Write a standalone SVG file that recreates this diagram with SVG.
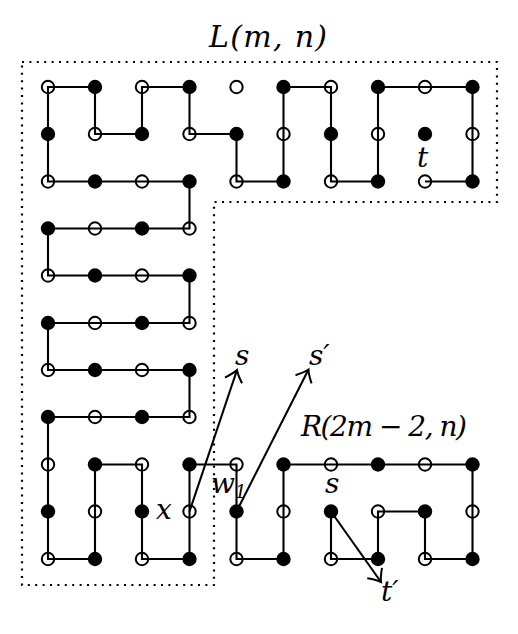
<svg xmlns="http://www.w3.org/2000/svg" width="518" height="634" viewBox="0 0 518 634">
<style>
.bg{fill:#fff}
.f{fill:#000}
.o{fill:#fff;stroke:#000;stroke-width:2}
.e{fill:none;stroke:#000;stroke-width:2.1;stroke-linejoin:miter}
.a{fill:none;stroke:#000;stroke-width:2.1}
.b{fill:none;stroke:#000;stroke-width:2.2;stroke-dasharray:2 5.4}
.t{font-family:"DejaVu Serif","Liberation Serif",serif;font-style:italic;font-size:28px;fill:#000}
.big{font-size:30px}
.mid{font-size:28px}
</style>
<defs>
<marker id="ah" markerUnits="userSpaceOnUse" markerWidth="30" markerHeight="30" refX="0" refY="0" viewBox="-15 -15 30 30" orient="auto" overflow="visible">
<path d="M -11 -9 Q -4 -2 0 0 Q -4 2 -11 9" fill="none" stroke="#000" stroke-width="2"/>
</marker>
</defs>
<rect class="bg" x="0" y="0" width="518" height="634"/>
<g id="boundary">
<path class="b" d="M22 62 H497 V202 H214 V585 H22 Z"/>
</g>
<g id="nodes">
<circle class="o" cx="48" cy="87" r="6.2"/><circle class="f" cx="95" cy="87" r="7.2"/><circle class="o" cx="142" cy="87" r="6.2"/><circle class="f" cx="189.5" cy="87" r="7.2"/><circle class="o" cx="236.5" cy="87" r="6.2"/><circle class="f" cx="283.5" cy="87" r="7.2"/><circle class="o" cx="331" cy="87" r="6.2"/><circle class="f" cx="378" cy="87" r="7.2"/><circle class="o" cx="425" cy="87" r="6.2"/><circle class="f" cx="472.5" cy="87" r="7.2"/>
<circle class="f" cx="48" cy="134" r="7.2"/><circle class="o" cx="95" cy="134" r="6.2"/><circle class="f" cx="142" cy="134" r="7.2"/><circle class="o" cx="189.5" cy="134" r="6.2"/><circle class="f" cx="236.5" cy="134" r="7.2"/><circle class="o" cx="283.5" cy="134" r="6.2"/><circle class="f" cx="331" cy="134" r="7.2"/><circle class="o" cx="378" cy="134" r="6.2"/><circle class="f" cx="425" cy="134" r="7.2"/><circle class="o" cx="472.5" cy="134" r="6.2"/>
<circle class="o" cx="48" cy="181.5" r="6.2"/><circle class="f" cx="95" cy="181.5" r="7.2"/><circle class="o" cx="142" cy="181.5" r="6.2"/><circle class="f" cx="189.5" cy="181.5" r="7.2"/><circle class="o" cx="236.5" cy="181.5" r="6.2"/><circle class="f" cx="283.5" cy="181.5" r="7.2"/><circle class="o" cx="331" cy="181.5" r="6.2"/><circle class="f" cx="378" cy="181.5" r="7.2"/><circle class="o" cx="425" cy="181.5" r="6.2"/><circle class="f" cx="472.5" cy="181.5" r="7.2"/>
<circle class="f" cx="48" cy="228.5" r="7.2"/><circle class="o" cx="95" cy="228.5" r="6.2"/><circle class="f" cx="142" cy="228.5" r="7.2"/><circle class="o" cx="189.5" cy="228.5" r="6.2"/>
<circle class="o" cx="48" cy="275.5" r="6.2"/><circle class="f" cx="95" cy="275.5" r="7.2"/><circle class="o" cx="142" cy="275.5" r="6.2"/><circle class="f" cx="189.5" cy="275.5" r="7.2"/>
<circle class="f" cx="48" cy="323" r="7.2"/><circle class="o" cx="95" cy="323" r="6.2"/><circle class="f" cx="142" cy="323" r="7.2"/><circle class="o" cx="189.5" cy="323" r="6.2"/>
<circle class="o" cx="48" cy="370" r="6.2"/><circle class="f" cx="95" cy="370" r="7.2"/><circle class="o" cx="142" cy="370" r="6.2"/><circle class="f" cx="189.5" cy="370" r="7.2"/>
<circle class="f" cx="48" cy="417" r="7.2"/><circle class="o" cx="95" cy="417" r="6.2"/><circle class="f" cx="142" cy="417" r="7.2"/><circle class="o" cx="189.5" cy="417" r="6.2"/>
<circle class="o" cx="48" cy="464.5" r="6.2"/><circle class="f" cx="95" cy="464.5" r="7.2"/><circle class="o" cx="142" cy="464.5" r="6.2"/><circle class="f" cx="189.5" cy="464.5" r="7.2"/><circle class="o" cx="236.5" cy="464.5" r="6.2"/><circle class="f" cx="283.5" cy="464.5" r="7.2"/><circle class="o" cx="331" cy="464.5" r="6.2"/><circle class="f" cx="378" cy="464.5" r="7.2"/><circle class="o" cx="425" cy="464.5" r="6.2"/><circle class="f" cx="472.5" cy="464.5" r="7.2"/>
<circle class="f" cx="48" cy="511.5" r="7.2"/><circle class="o" cx="95" cy="511.5" r="6.2"/><circle class="f" cx="142" cy="511.5" r="7.2"/><circle class="o" cx="189.5" cy="511.5" r="6.2"/><circle class="f" cx="236.5" cy="511.5" r="7.2"/><circle class="o" cx="283.5" cy="511.5" r="6.2"/><circle class="f" cx="331" cy="511.5" r="7.2"/><circle class="o" cx="378" cy="511.5" r="6.2"/><circle class="f" cx="425" cy="511.5" r="7.2"/><circle class="o" cx="472.5" cy="511.5" r="6.2"/>
<circle class="o" cx="48" cy="559" r="6.2"/><circle class="f" cx="95" cy="559" r="7.2"/><circle class="o" cx="142" cy="559" r="6.2"/><circle class="f" cx="189.5" cy="559" r="7.2"/><circle class="o" cx="236.5" cy="559" r="6.2"/><circle class="f" cx="283.5" cy="559" r="7.2"/><circle class="o" cx="331" cy="559" r="6.2"/><circle class="f" cx="378" cy="559" r="7.2"/><circle class="o" cx="425" cy="559" r="6.2"/><circle class="f" cx="472.5" cy="559" r="7.2"/>
</g>
<g id="connectors">
<path class="e" d="M425 181.5 H472.5 V87 H378 V181.5 H331 V87 H283.5 V181.5 H236.5 V134 H189.5 V87 H142 V134 H95 V87 H48 V181.5 H189.5 V228.5 H48 V275.5 H189.5 V323 H48 V370 H189.5 V417 H48 V559 H95 V464.5 H142 V559 H189.5 V464.5 H236.5 V559 H283.5 V464.5 H472.5 V559 H425 V511.5 H378 V559 H331 V511.5"/>
<line class="a" x1="189.5" y1="511.5" x2="237" y2="370" marker-end="url(#ah)"/>
<line class="a" x1="236.5" y1="511.5" x2="308.5" y2="369.5" marker-end="url(#ah)"/>
<line class="a" x1="331" y1="511.5" x2="381" y2="582" marker-end="url(#ah)"/>
</g>
<g id="labels">
<text class="t big" x="209" y="47" textLength="118" lengthAdjust="spacing">L(m, n)</text>
<text class="t mid" x="301" y="436" textLength="166" lengthAdjust="spacing">R(2m − 2, n)</text>
<text class="t" x="417" y="167">t</text>
<text class="t" x="156" y="519">x</text>
<text class="t" x="235" y="365">s</text>
<text class="t" x="309" y="365">s′</text>
<text class="t" x="325" y="493">s</text>
<text class="t" x="381" y="601">t′</text>
<text class="t" x="211" y="493">w<tspan font-size="18" dy="5">1</tspan></text>
</g>
</svg>
